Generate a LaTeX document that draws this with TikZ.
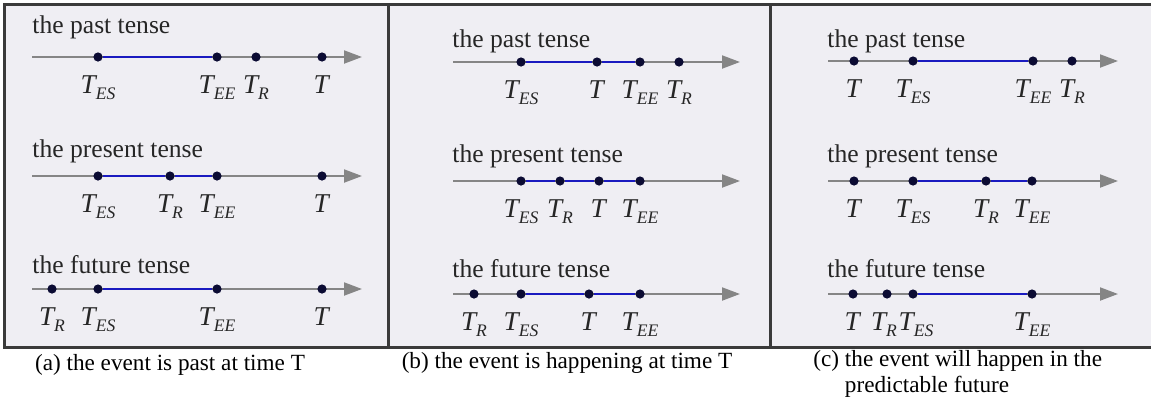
\documentclass[tikz,border=0pt]{standalone}
\usepackage{fontspec}
\setmainfont{Liberation Serif}
\usetikzlibrary{arrows.meta, positioning}

\definecolor{panelbg}{HTML}{EFEEF3}
\definecolor{framegray}{HTML}{3A3A3A}
\definecolor{axisgray}{HTML}{858585}
\definecolor{eventblue}{HTML}{1A1AC0}
\definecolor{dotnavy}{HTML}{0B0B33}

\newcommand{\tsub}[1]{\textit{T}\kern-0.8pt\raisebox{-0.5ex}{\fontsize{8.8}{9}\selectfont\textit{#1}}}

\begin{document}
\begin{tikzpicture}[
  x=0.5pt, y=-0.5pt,
  tense/.style={anchor=base west, inner sep=0pt, font=\fontsize{12.8}{14}\selectfont, text=black!85},
  axis/.style={draw=axisgray, line width=1pt, -{Triangle[length=9pt, width=6.5pt]}},
  event/.style={draw=eventblue, line width=1.4pt},
  dot/.style={circle, fill=dotnavy, inner sep=0pt, minimum size=4.6pt},
  tlab/.style={font=\fontsize{13.6}{14}\selectfont, inner sep=0pt, yshift=-6.6pt, text=black!85},
  caption/.style={inner sep=0pt, font=\fontsize{11.6}{13}\selectfont}
]
\useasboundingbox (0,0) rectangle (1151,408);

% Frame and panels
\fill[panelbg] (4,4) rectangle (1160,347);
\draw[framegray, line width=1.5pt] (1160,4) -- (4,4) -- (4,347) -- (1160,347);
\draw[framegray, line width=1.5pt] (388,4) -- (388,347);
\draw[framegray, line width=1.5pt] (770,4) -- (770,347);

% Panel (a)
\node[tense] (atitle1) at (32,33) {the past tense};
\node[tense] (atitle2) at (32,157) {the present tense};
\node[tense] (atitle3) at (32,273) {the future tense};
\coordinate (a1s) at (32,57);  \coordinate (a1e) at (362,57);
\coordinate (a2s) at (32,176); \coordinate (a2e) at (362,176);
\coordinate (a3s) at (32,289); \coordinate (a3e) at (362,289);
\draw[axis] (a1s) -- (a1e);
\draw[axis] (a2s) -- (a2e);
\draw[axis] (a3s) -- (a3e);

\node[dot, label={[tlab, name=a1esl]below:\tsub{ES}}] (a1es) at (98,57) {};
\node[dot, label={[tlab, name=a1eel]below:\tsub{EE}}] (a1ee) at (217,57) {};
\node[dot, label={[tlab, name=a1rl]below:\tsub{R}}] (a1r) at (256,57) {};
\node[dot, label={[tlab, name=a1tl]below:\textit{T}}] (a1t) at (322,57) {};

\node[dot, label={[tlab, name=a2esl]below:\tsub{ES}}] (a2es) at (98,176) {};
\node[dot, label={[tlab, name=a2rl]below:\tsub{R}}] (a2r) at (170,176) {};
\node[dot, label={[tlab, name=a2eel]below:\tsub{EE}}] (a2ee) at (217,176) {};
\node[dot, label={[tlab, name=a2tl]below:\textit{T}}] (a2t) at (322,176) {};

\node[dot, label={[tlab, name=a3rl]below:\tsub{R}}] (a3r) at (52,289) {};
\node[dot, label={[tlab, name=a3esl]below:\tsub{ES}}] (a3es) at (98,289) {};
\node[dot, label={[tlab, name=a3eel]below:\tsub{EE}}] (a3ee) at (217,289) {};
\node[dot, label={[tlab, name=a3tl]below:\textit{T}}] (a3t) at (322,289) {};

\draw[event] (a1es) -- (a1ee);
\draw[event] (a2es) -- (a2r) -- (a2ee);
\draw[event] (a3es) -- (a3ee);

% Panel (b)
\node[tense] (btitle1) at (452,47) {the past tense};
\node[tense] (btitle2) at (452,162) {the present tense};
\node[tense] (btitle3) at (452,277) {the future tense};
\coordinate (b1s) at (453,62);  \coordinate (b1e) at (740,62);
\coordinate (b2s) at (453,181); \coordinate (b2e) at (740,181);
\coordinate (b3s) at (453,294); \coordinate (b3e) at (740,294);
\draw[axis] (b1s) -- (b1e);
\draw[axis] (b2s) -- (b2e);
\draw[axis] (b3s) -- (b3e);

\node[dot, label={[tlab, name=b1esl]below:\tsub{ES}}] (b1es) at (521,62) {};
\node[dot, label={[tlab, name=b1tl]below:\textit{T}}] (b1t) at (597,62) {};
\node[dot, label={[tlab, name=b1eel]below:\tsub{EE}}] (b1ee) at (640,62) {};
\node[dot, label={[tlab, name=b1rl]below:\tsub{R}}] (b1r) at (679,62) {};

\node[dot, label={[tlab, name=b2esl]below:\tsub{ES}}] (b2es) at (521,181) {};
\node[dot, label={[tlab, name=b2rl]below:\tsub{R}}] (b2r) at (560,181) {};
\node[dot, label={[tlab, name=b2tl]below:\textit{T}}] (b2t) at (599,181) {};
\node[dot, label={[tlab, name=b2eel]below:\tsub{EE}}] (b2ee) at (640,181) {};

\node[dot, label={[tlab, name=b3rl]below:\tsub{R}}] (b3r) at (474,294) {};
\node[dot, label={[tlab, name=b3esl]below:\tsub{ES}}] (b3es) at (521,294) {};
\node[dot, label={[tlab, name=b3tl]below:\textit{T}}] (b3t) at (589,294) {};
\node[dot, label={[tlab, name=b3eel]below:\tsub{EE}}] (b3ee) at (640,294) {};

\draw[event] (b1es) -- (b1t) -- (b1ee);
\draw[event] (b2es) -- (b2r) -- (b2t) -- (b2ee);
\draw[event] (b3es) -- (b3t) -- (b3ee);

% Panel (c)
\node[tense] (ctitle1) at (827,47) {the past tense};
\node[tense] (ctitle2) at (827,162) {the present tense};
\node[tense] (ctitle3) at (827,277) {the future tense};
\coordinate (c1s) at (828,61);  \coordinate (c1e) at (1118,61);
\coordinate (c2s) at (828,181); \coordinate (c2e) at (1118,181);
\coordinate (c3s) at (828,294); \coordinate (c3e) at (1118,294);
\draw[axis] (c1s) -- (c1e);
\draw[axis] (c2s) -- (c2e);
\draw[axis] (c3s) -- (c3e);

\node[dot, label={[tlab, name=c1tl]below:\textit{T}}] (c1t) at (854,61) {};
\node[dot, label={[tlab, name=c1esl]below:\tsub{ES}}] (c1es) at (913,61) {};
\node[dot, label={[tlab, name=c1eel]below:\tsub{EE}}] (c1ee) at (1033,61) {};
\node[dot, label={[tlab, name=c1rl]below:\tsub{R}}] (c1r) at (1072,61) {};

\node[dot, label={[tlab, name=c2tl]below:\textit{T}}] (c2t) at (854,181) {};
\node[dot, label={[tlab, name=c2esl]below:\tsub{ES}}] (c2es) at (913,181) {};
\node[dot, label={[tlab, name=c2rl]below:\tsub{R}}] (c2r) at (986,181) {};
\node[dot, label={[tlab, name=c2eel]below:\tsub{EE}}] (c2ee) at (1032,181) {};

\node[dot, label={[tlab, name=c3tl]below:\textit{T}}] (c3t) at (853,294) {};
\node[dot, label={[tlab, name=c3rl, xshift=-1.5pt]below:\tsub{R}}] (c3r) at (887,294) {};
\node[dot, label={[tlab, name=c3esl, xshift=1.5pt]below:\tsub{ES}}] (c3es) at (913,294) {};
\node[dot, label={[tlab, name=c3eel]below:\tsub{EE}}] (c3ee) at (1032,294) {};

\draw[event] (c1es) -- (c1ee);
\draw[event] (c2es) -- (c2r) -- (c2ee);
\draw[event] (c3es) -- (c3ee);

% Captions
\node[caption, anchor=base] (capa) at (170,370) {(a) the event is past at time T};
\node[caption, anchor=base] (capb) at (567,368) {(b) the event is happening at time T};
\node[caption, anchor=north west, align=left] (capc) at (813,350)
  {(c) the event will happen in the\\\phantom{(c) }predictable future};
\end{tikzpicture}
\end{document}
